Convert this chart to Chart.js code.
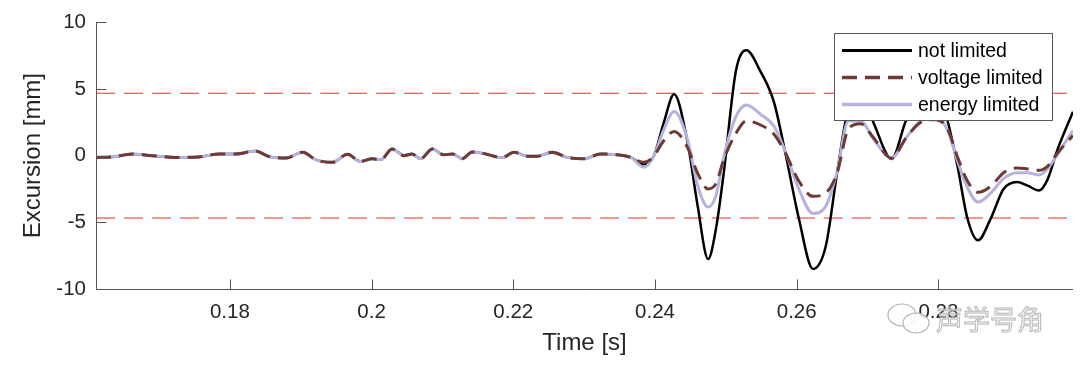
<!DOCTYPE html>
<html>
<head>
<meta charset="utf-8">
<script src="https://cdn.jsdelivr.net/npm/chart.js@4.4.1/dist/chart.umd.min.js"></script>
<style>
  html, body { margin: 0; padding: 0; background: #ffffff; }
  #wrap { width: 1080px; height: 369px; }
</style>
</head>
<body>
<div id="wrap"><canvas id="c" width="1080" height="369"></canvas></div>
<script>
// ---- data ----
const time = [
  0.1611, 0.1634, 0.1662, 0.1690, 0.1723, 0.1756, 0.1784, 0.1808, 0.1836, 0.1855,
  0.1879, 0.1903, 0.1921, 0.1945, 0.1966, 0.1984, 0.2001, 0.2013, 0.2029, 0.2046,
  0.2057, 0.2069, 0.2086, 0.2102, 0.2114, 0.2128, 0.2142, 0.2161, 0.2184, 0.2201,
  0.2220, 0.2234, 0.2255, 0.2276, 0.2300, 0.2323, 0.2347, 0.2366, 0.2384, 0.2398,
  0.2412, 0.2427, 0.2446, 0.2460, 0.2475, 0.2486, 0.2497, 0.2514, 0.2529, 0.2549,
  0.2568, 0.2584, 0.2603, 0.2623, 0.2641, 0.2657, 0.2673, 0.2690, 0.2709, 0.2734,
  0.2754, 0.2775, 0.2796, 0.2813, 0.2827, 0.2841, 0.2856, 0.2874, 0.2892, 0.2911,
  0.2926, 0.2942, 0.2954, 0.2968, 0.2990
];
const notLimited = [
  -0.13, -0.10, 0.13, 0.00, -0.13, -0.10, 0.13, 0.13, 0.35, -0.06,
  -0.18, 0.26, -0.30, -0.50, 0.11, -0.43, -0.23, -0.30, 0.50, 0.00,
  0.13, -0.23, 0.50, 0.06, 0.13, -0.23, 0.28, 0.13, -0.15, 0.26,
  -0.04, -0.04, 0.26, -0.13, -0.23, 0.13, 0.06, -0.13, -0.65, -0.06,
  2.4, 4.6, 1.0, -3.7, -7.75, -5.5, -1.3, 6.3, 7.9, 6.3,
  4.0, 0.2, -4.7, -8.5, -6.8, -1.3, 3.6, 4.8, 2.4, -0.25,
  2.6, 4.8, 4.8, 2.6, -0.8, -4.7, -6.35, -4.7, -2.5, -1.97,
  -2.25, -2.62, -1.8, 0.43, 3.3
];
const voltageLimited = [
  -0.13, -0.10, 0.13, 0.00, -0.13, -0.10, 0.13, 0.13, 0.35, -0.06,
  -0.18, 0.26, -0.30, -0.50, 0.11, -0.43, -0.23, -0.30, 0.50, 0.00,
  0.13, -0.23, 0.50, 0.06, 0.13, -0.23, 0.28, 0.13, -0.15, 0.26,
  -0.04, -0.04, 0.26, -0.13, -0.23, 0.13, 0.06, -0.13, -0.50, -0.06,
  1.1, 1.82, 0.6, -1.3, -2.5, -2.1, -0.3, 1.65, 2.6, 2.3,
  1.6, 0.2, -1.9, -3.05, -2.8, -1.3, 2.0, 2.4, 1.3, -0.2,
  1.3, 2.5, 2.7, 2.0, -0.1, -1.9, -2.75, -2.3, -1.28, -0.92,
  -1.0, -1.1, -0.8, 0.18, 1.52
];
const energyLimited = [
  -0.13, -0.10, 0.13, 0.00, -0.13, -0.10, 0.13, 0.13, 0.35, -0.06,
  -0.18, 0.26, -0.30, -0.50, 0.11, -0.43, -0.23, -0.30, 0.50, 0.00,
  0.13, -0.23, 0.50, 0.06, 0.13, -0.23, 0.28, 0.13, -0.15, 0.26,
  -0.04, -0.04, 0.26, -0.13, -0.23, 0.13, 0.06, -0.13, -0.87, -0.06,
  1.9, 3.31, 1.2, -2.2, -3.85, -3.0, -0.1, 2.9, 3.8, 3.1,
  2.2, 0.3, -2.5, -4.33, -3.8, -1.2, 2.6, 2.6, 1.2, -0.2,
  1.3, 2.6, 3.0, 1.9, -0.4, -2.4, -3.48, -2.8, -1.72, -1.28,
  -1.28, -1.45, -1.0, 0.1, 1.89
];
const seriesNames = ['not limited', 'voltage limited', 'energy limited'];
const limitLevels = [4.68, -4.68];
const xRange = [0.1611, 0.2990];
const yRange = [-10, 10];
const xTickStep = 0.02;
const yTickStep = 5;
const xTitle = 'Time [s]';
const yTitle = 'Excursion [mm]';
const watermark = '声学号角';

// ---- styles ----
const FONT = "'Liberation Sans', Arial, Helvetica, sans-serif";
const TXT = '#262626';
const AXIS = '#555555';

function pts(ys) { return time.map((t, i) => ({ x: t, y: ys[i] })); }

const seriesStyles = [
  { borderColor: '#000000', borderWidth: 2.5, borderDash: [] },
  { borderColor: '#6e3a36', borderWidth: 3, borderDash: [15, 8] },
  { borderColor: '#b3b3de', borderWidth: 3, borderDash: [] }
];
const seriesData = [notLimited, voltageLimited, energyLimited];

const datasets = [];
limitLevels.forEach(v => {
  datasets.push({
    label: '_limit', data: [{ x: xRange[0], y: v }, { x: xRange[1], y: v }],
    borderColor: '#e42f2f', borderWidth: 1.1, borderDash: [19, 9], pointRadius: 0, order: 10
  });
});
const orders = [4, 2, 3];
seriesData.forEach((d, i) => {
  datasets.push(Object.assign({
    label: seriesNames[i], data: pts(d), pointRadius: 0, fill: false,
    cubicInterpolationMode: 'monotone', order: orders[i], isSeries: true
  }, seriesStyles[i]));
});

const decor = {
  id: 'decor',
  afterDraw(chart) {
    const { ctx, chartArea: a, scales } = chart;
    ctx.save();
    ctx.strokeStyle = AXIS; ctx.lineWidth = 1; ctx.setLineDash([]);
    const L = Math.round(a.left) + 0.5, B = Math.round(a.bottom) + 0.5;
    ctx.beginPath();
    ctx.moveTo(L, Math.round(a.top)); ctx.lineTo(L, B);
    ctx.lineTo(Math.round(a.right), B);
    ctx.stroke();
    ctx.beginPath();
    scales.y.ticks.forEach(t => {
      const y = Math.round(scales.y.getPixelForValue(t.value)) + 0.5;
      ctx.moveTo(L, y); ctx.lineTo(L + 10, y);
    });
    scales.x.ticks.forEach(t => {
      const x = Math.round(scales.x.getPixelForValue(t.value)) + 0.5;
      ctx.moveTo(x, B); ctx.lineTo(x, B - 10);
    });
    ctx.stroke();

    // legend box
    const bx = 834.5, by = 33.5, bw = 218, bh = 87;
    ctx.fillStyle = '#ffffff';
    ctx.fillRect(bx, by, bw, bh);
    ctx.strokeStyle = '#5a5a5a'; ctx.lineWidth = 1;
    ctx.strokeRect(bx, by, bw, bh);
    const rows = [50.5, 77.5, 104.5];
    ctx.font = '19.5px ' + FONT;
    ctx.textBaseline = 'middle'; ctx.textAlign = 'left';
    chart.data.datasets.filter(d => d.isSeries).forEach((d, i) => {
      ctx.beginPath();
      ctx.strokeStyle = d.borderColor; ctx.lineWidth = d.borderWidth + 0.5;
      ctx.setLineDash(d.borderDash || []);
      ctx.moveTo(842, rows[i]); ctx.lineTo(912, rows[i]);
      ctx.stroke();
      ctx.setLineDash([]);
      ctx.fillStyle = '#000000';
      ctx.fillText(d.label, 918, rows[i] + 1);
    });

    // watermark
    ctx.globalAlpha = 0.85;
    ctx.strokeStyle = '#a8a8a8'; ctx.lineWidth = 1.2;
    ctx.fillStyle = '#ffffff';
    ctx.beginPath(); ctx.ellipse(902, 315, 14, 11, 0, 0, Math.PI * 2); ctx.fill(); ctx.stroke();
    ctx.beginPath(); ctx.ellipse(916, 323, 13, 10, 0, 0, Math.PI * 2); ctx.fill(); ctx.stroke();
    ctx.font = "27px 'Noto Sans CJK SC', sans-serif";
    ctx.textBaseline = 'middle'; ctx.textAlign = 'left';
    ctx.lineWidth = 1;
    ctx.fillStyle = 'rgba(255,255,255,0.6)';
    ctx.fillText(watermark, 936, 320);
    ctx.strokeText(watermark, 936, 320);
    ctx.restore();
  }
};

new Chart(document.getElementById('c'), {
  type: 'line',
  data: { datasets },
  options: {
    responsive: false,
    animation: false,
    devicePixelRatio: 1,
    layout: { padding: { left: 0, right: 7, top: 16, bottom: 0 } },
    plugins: { legend: { display: false }, tooltip: { enabled: false } },
    elements: { point: { radius: 0 }, line: { tension: 0.4 } },
    scales: {
      x: {
        type: 'linear', min: xRange[0], max: xRange[1],
        grid: { display: false, drawTicks: false },
        border: { display: false },
        ticks: {
          stepSize: xTickStep, includeBounds: false, padding: 11, autoSkip: false, maxRotation: 0,
          color: TXT, font: { family: FONT, size: 20.5 },
          callback: v => String(parseFloat(Number(v).toFixed(2)))
        },
        title: { display: true, text: xTitle, color: TXT, font: { family: FONT, size: 24 }, padding: { top: 0, bottom: 11 } },
        afterFit: s => { s.height = 80; }
      },
      y: {
        min: yRange[0], max: yRange[1],
        grid: { display: false, drawTicks: false },
        border: { display: false },
        ticks: { stepSize: yTickStep, padding: 10, color: TXT, font: { family: FONT, size: 20.5 } },
        title: { display: true, text: yTitle, color: TXT, font: { family: FONT, size: 24 }, padding: { top: 19, bottom: 0 } },
        afterFit: s => { s.width = 96; }
      }
    }
  },
  plugins: [decor]
});
</script>
</body>
</html>
